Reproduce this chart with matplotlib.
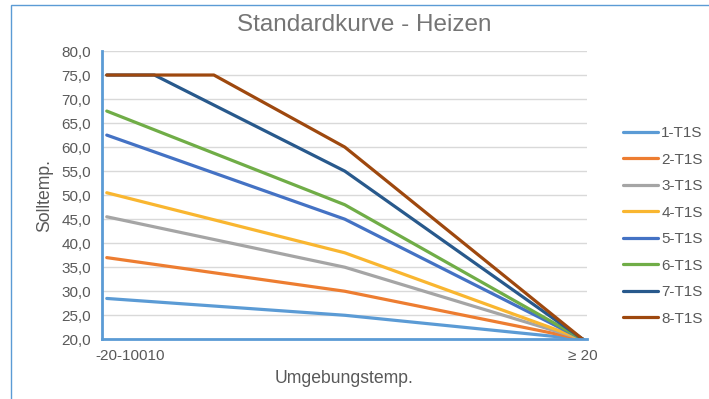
import matplotlib.pyplot as plt
from matplotlib.patches import Rectangle
from matplotlib.ticker import FuncFormatter

plt.rcParams["font.family"] = ["Liberation Sans", "DejaVu Sans"]

# outside temperature points for each curve (deg C)
x_std = [-20, 0, 20]
x_7 = [-20, -16, 0, 20]
x_8 = [-20, -11, 0, 20]

# set temperatures per curve
t1 = [28.5, 25.0, 20.0]
t2 = [37.0, 30.0, 20.0]
t3 = [45.5, 35.0, 20.0]
t4 = [50.5, 38.0, 20.0]
t5 = [62.5, 45.0, 20.0]
t6 = [67.5, 48.0, 20.0]
t7 = [75.0, 75.0, 55.0, 20.0]
t8 = [75.0, 75.0, 60.0, 20.0]

series = [
    ("1-T1S", x_std, t1, "#5B9BD5"),
    ("2-T1S", x_std, t2, "#ED7D31"),
    ("3-T1S", x_std, t3, "#A5A5A5"),
    ("4-T1S", x_std, t4, "#F9B630"),
    ("5-T1S", x_std, t5, "#4472C4"),
    ("6-T1S", x_std, t6, "#70AD47"),
    ("7-T1S", x_7, t7, "#28598C"),
    ("8-T1S", x_8, t8, "#9E480E"),
]

x_ticks = [-18, 20]
x_tick_labels = ["-20-10010", "\u2265 20"]

text_color = "#595959"
axis_blue = "#5B9BD5"

fig = plt.figure(figsize=(7.09, 3.99), dpi=100)
ax = fig.add_axes([102 / 709, 1 - 339.3 / 399, 485 / 709, 288.3 / 399])

for name, xs, ys, color in series:
    ax.plot(xs, ys, color=color, lw=2.3, label=name, solid_capstyle="round",
            solid_joinstyle="round")

ax.set_ylim(20, 80)
ax.set_xlim(-20.4, 20.35)
ax.set_yticks(range(20, 81, 5))
ax.yaxis.set_major_formatter(FuncFormatter(lambda v, p: f"{v:.1f}".replace(".", ",")))
ax.set_xticks(x_ticks)
ax.set_xticklabels(x_tick_labels)
ax.tick_params(length=0, labelsize=11, colors=text_color)
ax.tick_params(axis="y", pad=8)
ax.tick_params(axis="x", pad=7)

ax.grid(axis="y", color="#D9D9D9", lw=1)
ax.set_axisbelow(True)
for side in ["top", "right"]:
    ax.spines[side].set_visible(False)
for side in ["left", "bottom"]:
    ax.spines[side].set_color(axis_blue)
    ax.spines[side].set_linewidth(2)

fig.text(364 / 709, 1 - 25 / 399, "Standardkurve - Heizen", fontsize=17.5,
         color="#757575", ha="center", va="center")
ax.set_ylabel("Solltemp.", fontsize=12.7, color=text_color, labelpad=6)
ax.set_xlabel("Umgebungstemp.", fontsize=12.7, color=text_color, labelpad=5)

ax.legend(loc="center left", bbox_to_anchor=(623 / 709, 1 - 226 / 399),
          bbox_transform=fig.transFigure, frameon=False, fontsize=11,
          labelcolor=text_color, handlelength=2.3, handletextpad=0.2,
          labelspacing=0.82, borderpad=0, borderaxespad=0)

# chart area border
fig.patches.append(Rectangle((11 / 709, -0.1), 1.2, 1 - 5 / 399 + 0.1,
                             transform=fig.transFigure, fill=False,
                             edgecolor=axis_blue, lw=1))

fig.savefig("out.png", dpi=100)
